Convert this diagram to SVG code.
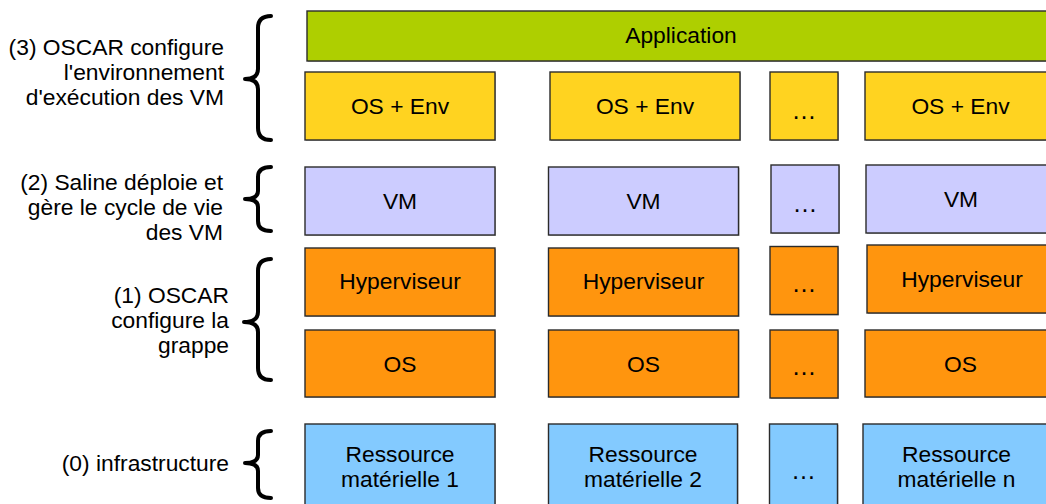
<svg xmlns="http://www.w3.org/2000/svg" width="1046" height="504" viewBox="0 0 1046 504">
<style>
text{font-family:"Liberation Sans",Arial,sans-serif;font-size:22.8px;fill:#000}
.c{text-anchor:middle}
.e{text-anchor:end}
.d{font-size:25px}
rect.b{stroke:#2b2b2b;stroke-width:1.4}
.sh{fill:#b8b8b8}
.app{fill:#aecf00}
.env{fill:#ffd320}
.vm{fill:#ccccff}
.or{fill:#ff950e}
.hw{fill:#83caff}
.br{fill:none;stroke:#000;stroke-width:4;stroke-linecap:round;stroke-linejoin:round}
</style>
<rect width="1046" height="504" fill="#fff"/>

<g id="labels">
<text class="e" x="224" y="55">(3) OSCAR configure</text>
<text class="e" x="224" y="80">l'environnement</text>
<text class="e" x="224" y="105">d'exécution des VM</text>
<text class="e" x="223" y="190">(2) Saline déploie et</text>
<text class="e" x="223" y="215">gère le cycle de vie</text>
<text class="e" x="223" y="240">des VM</text>
<text class="e" x="229" y="303">(1) OSCAR</text>
<text class="e" x="229" y="328">configure la</text>
<text class="e" x="229" y="353">grappe</text>
<text class="e" x="229" y="471">(0) infrastructure</text>
</g>

<g id="braces">
<path class="br" d="M271 16 Q258 16 258 28 L258 69 Q258 79 245 79 Q258 79 258 89 L258 128 Q258 140 271 140"/>
<path class="br" d="M271 167 Q258 167 258 177 L258 191 Q258 199 245 199 Q258 199 258 207 L258 221 Q258 231 271 231"/>
<path class="br" d="M271 259 Q258 259 258 271 L258 312 Q258 322 244 322 Q258 322 258 332 L258 368 Q258 380 271 380"/>
<path class="br" d="M271 431 Q258 431 258 441 L258 455 Q258 463 245 463 Q258 463 258 471 L258 488 Q258 498 271 498"/>
</g>

<g id="application">
<rect class="sh" x="308" y="12" width="750" height="50"/>
<rect class="b app" x="307" y="11" width="750" height="50"/>
<text class="c" x="681" y="43">Application</text>
</g>

<g id="env1"><rect class="sh" x="306" y="73" width="190" height="68"/><rect class="b env" x="305" y="72" width="190" height="68"/><text class="c" x="400" y="114">OS + Env</text></g>
<g id="env2"><rect class="sh" x="551" y="73" width="190" height="68"/><rect class="b env" x="550" y="72" width="190" height="68"/><text class="c" x="645" y="114">OS + Env</text></g>
<g id="env3"><rect class="sh" x="771" y="73" width="68" height="68"/><rect class="b env" x="770" y="72" width="68" height="68"/><text class="c d" x="804" y="119">…</text></g>
<g id="env4"><rect class="sh" x="866" y="73" width="191" height="68"/><rect class="b env" x="865" y="72" width="191" height="68"/><text class="c" x="960.5" y="114">OS + Env</text></g>

<g id="vm1"><rect class="sh" x="306" y="168" width="190" height="68"/><rect class="b vm" x="305" y="167" width="190" height="68"/><text class="c" x="400" y="209">VM</text></g>
<g id="vm2"><rect class="sh" x="549.5" y="168" width="190" height="68"/><rect class="b vm" x="548.5" y="167" width="190" height="68"/><text class="c" x="643.5" y="209">VM</text></g>
<g id="vm3"><rect class="sh" x="772" y="166" width="68" height="68"/><rect class="b vm" x="771" y="165" width="68" height="68"/><text class="c d" x="805" y="212">…</text></g>
<g id="vm4"><rect class="sh" x="867" y="166" width="191" height="68"/><rect class="b vm" x="866" y="165" width="191" height="68"/><text class="c" x="961" y="207">VM</text></g>

<g id="hyp1"><rect class="sh" x="306" y="249" width="190" height="68"/><rect class="b or" x="305" y="248" width="190" height="68"/><text class="c" x="400" y="289">Hyperviseur</text></g>
<g id="hyp2"><rect class="sh" x="549.5" y="249" width="190" height="68"/><rect class="b or" x="548.5" y="248" width="190" height="68"/><text class="c" x="643.5" y="289">Hyperviseur</text></g>
<g id="hyp3"><rect class="sh" x="771" y="247.5" width="68" height="68"/><rect class="b or" x="770" y="246.5" width="68" height="68"/><text class="c d" x="804" y="292">…</text></g>
<g id="hyp4"><rect class="sh" x="868" y="246" width="190" height="68"/><rect class="b or" x="867" y="245" width="190" height="68"/><text class="c" x="962" y="287">Hyperviseur</text></g>

<g id="os1"><rect class="sh" x="306" y="331" width="190" height="67"/><rect class="b or" x="305" y="330" width="190" height="67"/><text class="c" x="400" y="372">OS</text></g>
<g id="os2"><rect class="sh" x="549.5" y="331" width="190" height="67"/><rect class="b or" x="548.5" y="330" width="190" height="67"/><text class="c" x="643.5" y="372">OS</text></g>
<g id="os3"><rect class="sh" x="771" y="331" width="68" height="68"/><rect class="b or" x="770" y="330" width="68" height="68"/><text class="c d" x="804" y="375">…</text></g>
<g id="os4"><rect class="sh" x="866" y="331" width="191" height="67"/><rect class="b or" x="865" y="330" width="191" height="67"/><text class="c" x="960.5" y="372">OS</text></g>

<g id="hw1"><rect class="sh" x="306" y="425" width="190" height="90"/><rect class="b hw" x="305" y="424" width="190" height="90"/><text class="c" x="400" y="462">Ressource</text><text class="c" x="400" y="487">matérielle 1</text></g>
<g id="hw2"><rect class="sh" x="549.5" y="425" width="189" height="90"/><rect class="b hw" x="548.5" y="424" width="189" height="90"/><text class="c" x="643" y="462">Ressource</text><text class="c" x="643" y="487">matérielle 2</text></g>
<g id="hw3"><rect class="sh" x="770.5" y="425" width="68" height="90"/><rect class="b hw" x="769.5" y="424" width="68" height="90"/><text class="c d" x="803.5" y="479">…</text></g>
<g id="hw4"><rect class="sh" x="864" y="425" width="186" height="90"/><rect class="b hw" x="863" y="424" width="186" height="90"/><text class="c" x="956.5" y="462">Ressource</text><text class="c" x="956.5" y="487">matérielle n</text></g>

<g id="connectors"/>
</svg>
